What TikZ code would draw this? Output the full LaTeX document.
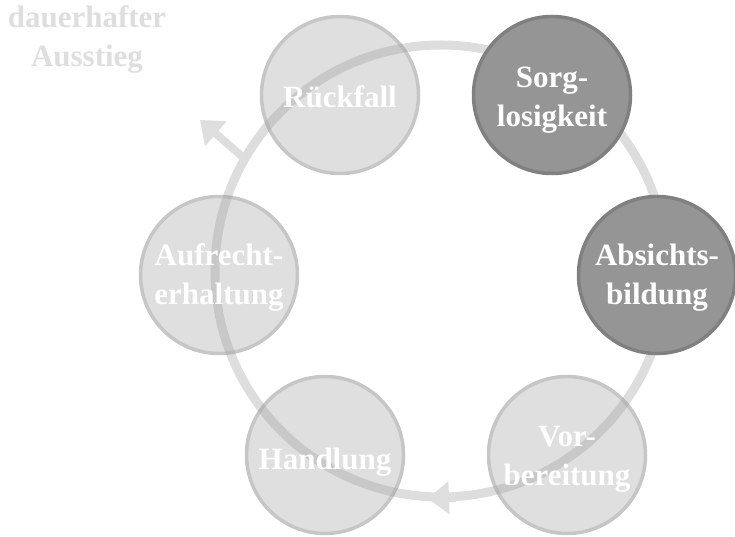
\documentclass[tikz,border=0pt]{standalone}
\usepackage{fontspec}
\setmainfont{Liberation Serif}
\usetikzlibrary{arrows.meta}
\definecolor{lightfill}{HTML}{DFDFDF}
\definecolor{lightline}{HTML}{C6C6C6}
\definecolor{darkfill}{HTML}{959595}
\definecolor{darkline}{HTML}{808080}
\definecolor{ringcol}{HTML}{9E9E9E}
\definecolor{ringtip}{HTML}{DEDEDE}
\begin{document}
\begin{tikzpicture}[x=1bp,y=-1bp,
  stage/.style={circle, minimum size=157bp, inner sep=0pt, line width=3.5bp},
  light/.style={stage, fill=lightfill, draw=lightline},
  dark/.style={stage, fill=darkfill, draw=darkline},
  lbl/.style={text=white, font=\bfseries\fontsize{31bp}{39bp}\selectfont, align=center, inner sep=0pt},
  ring/.style={draw=ringcol, line width=9bp, opacity=0.35},
  arrowline/.style={draw=ringtip, fill=ringtip}]
\useasboundingbox (0,0) rectangle (735,537);

% stages that the cycle ring passes over
\node[light] (nR) at (340,95) {};
\node[light] (nA) at (219,275) {};
\node[light] (nH) at (325,455) {};
\node[light] (nV) at (567,455) {};

% the cycle ring with its direction marker
\coordinate (ringc) at (441,271);
\draw[ring] (ringc) circle (226bp);
\coordinate (loopA) at (456,497.5);
\coordinate (loopB) at (428,498.5);
\draw[arrowline, line width=9bp, -{Triangle[length=21bp,width=32bp]}] (loopA) -- (loopB);

% exit arrow
\coordinate (exitA) at (244,158);
\coordinate (exitB) at (200,120);
\draw[arrowline, line width=8bp, -{Triangle[length=21bp,width=32bp]}] (exitA) -- (exitB);

% highlighted stages
\node[dark] (nS) at (552,95) {};
\node[dark] (nB) at (657,275) {};

% labels, set slightly below the circle centres
\node[lbl, yshift=-2bp] (tR) at (nR) {Rückfall};
\node[lbl, yshift=-5bp] (tS) at (nS) {Sorg-\\losigkeit};
\node[lbl, yshift=-3bp] (tB) at (nB) {Absichts-\\bildung};
\node[lbl, yshift=-4bp] (tV) at (nV) {Vor-\\bereitung};
\node[lbl, yshift=-7bp] (tH) at (nH) {Handlung};
\node[lbl, yshift=-3bp] (tA) at (nA) {Aufrecht-\\erhaltung};
\node[lbl, text=ringtip] (tX) at (87,40) {dauerhafter\\Ausstieg};
\end{tikzpicture}
\end{document}
